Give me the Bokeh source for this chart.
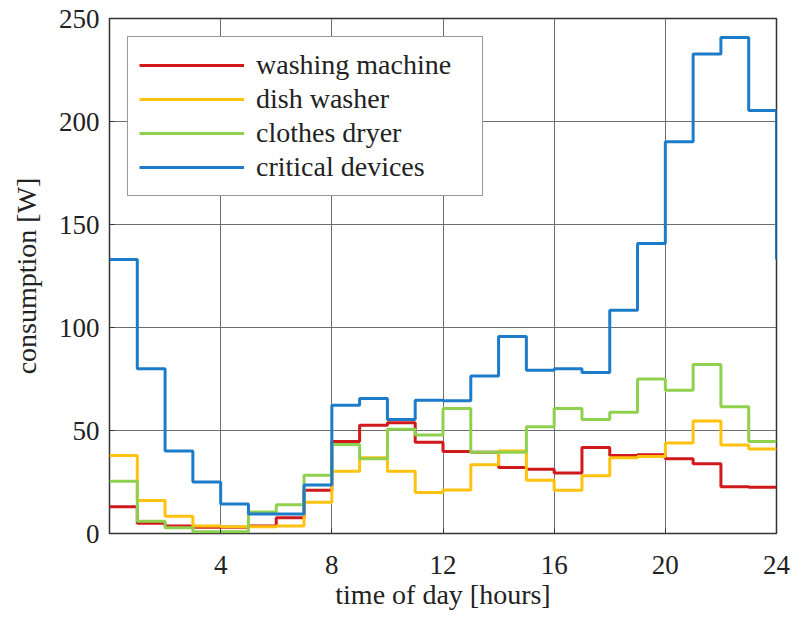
from bokeh.plotting import figure
from bokeh.models import FixedTicker, Legend, LegendItem, Range1d
from bokeh.embed import file_html
from bokeh.resources import INLINE

hours = list(range(25))  # 0..24 step edges

washing_machine = [13, 5, 3.6, 3, 3, 3.6, 7.6, 21, 44.6, 52.5, 53.8, 44.3, 39.8, 39.5,
                   32, 31.2, 29.4, 41.7, 37.9, 38.2, 36.3, 33.9, 22.7, 22.4]
dish_washer = [37.9, 16, 8.4, 3.6, 3.3, 3.3, 3.6, 15.2, 30.2, 36.8, 30.2, 19.9, 21.1, 33.4,
               40, 25.9, 21, 28, 36.8, 37.4, 43.9, 54.6, 43, 41]
clothes_dryer = [25.4, 6, 2.8, 0.9, 0.9, 10.4, 14, 28.3, 43.2, 36.3, 50.6, 47.8, 60.7, 39.5,
                 39.5, 51.8, 60.7, 55.4, 58.9, 75, 69.5, 82, 61.5, 44.7]
critical_devices = [133, 80, 40, 25, 14.3, 9.5, 9.5, 23.5, 62.2, 65.5, 55.4, 64.7, 64.4, 76.5,
                    95.6, 79.3, 80, 78.2, 108.4, 140.8, 190.2, 232.8, 240.8, 205.4]

series_names = ["washing machine", "dish washer", "clothes dryer", "critical devices"]
series_values = [washing_machine, dish_washer, clothes_dryer, critical_devices]
series_colors = ["#d0191b", "#ffc20e", "#8fd14f", "#1c7cc9"]
# value drawn at the 24 h edge (blue trace wraps back to its midnight value)
series_end = [washing_machine[-1], dish_washer[-1], clothes_dryer[-1], critical_devices[0]]

x_ticks = [4, 8, 12, 16, 20, 24]
y_ticks = [0, 50, 100, 150, 200, 250]

FONT = "Liberation Serif"

p = figure(width=791, height=612, output_backend="svg", toolbar_location=None,
           x_range=Range1d(0, 24), y_range=Range1d(0, 250),
           min_border_left=109, min_border_right=15, min_border_top=18, min_border_bottom=78)

p.outline_line_color = "#333333"
p.outline_line_width = 1.5
p.background_fill_color = "white"
p.border_fill_color = "white"

p.xaxis.ticker = FixedTicker(ticks=x_ticks)
p.yaxis.ticker = FixedTicker(ticks=y_ticks)
for ax in (p.xaxis[0], p.yaxis[0]):
    ax.axis_line_color = None
    ax.major_tick_in = 5
    ax.major_tick_out = 0
    ax.major_tick_line_color = "#333333"
    ax.minor_tick_line_color = None
    ax.major_label_text_font = FONT
    ax.major_label_text_font_size = "27px"
    ax.major_label_text_color = "#222222"
    ax.axis_label_text_font = FONT
    ax.axis_label_text_font_size = "28px"
    ax.axis_label_text_font_style = "normal"
    ax.axis_label_text_color = "#222222"

p.xaxis.axis_label = "time of day [hours]"
p.yaxis.axis_label = "consumption [W]"
p.xaxis.major_label_standoff = 22
p.yaxis.major_label_standoff = 10
p.xaxis.axis_label_standoff = 2
p.yaxis.axis_label_standoff = 14

p.xgrid.grid_line_color = "#6e6e6e"
p.ygrid.grid_line_color = "#6e6e6e"
p.xgrid.grid_line_width = 1
p.ygrid.grid_line_width = 1

items = []
for name, vals, col, end in zip(series_names, series_values, series_colors, series_end):
    r = p.step(hours, vals + [end], mode="after", line_color=col, line_width=3)
    items.append(LegendItem(label=name, renderers=[r]))

legend = Legend(items=items, location="top_left")
legend.margin = 18
legend.padding = 11
legend.spacing = 0
legend.glyph_width = 105
legend.glyph_height = 34
legend.label_height = 34
legend.label_width = 215
legend.label_standoff = 12
legend.label_text_font = FONT
legend.label_text_font_size = "28px"
legend.label_text_color = "#222222"
legend.border_line_color = "#333333"
legend.border_line_width = 1.5
legend.background_fill_color = "white"
legend.background_fill_alpha = 1
p.add_layout(legend, "center")

open("out.html", "w").write(file_html(p, INLINE))
